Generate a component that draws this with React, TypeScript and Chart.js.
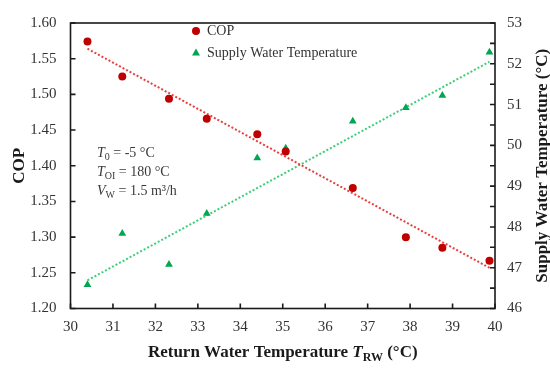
import { useEffect, useRef } from "react";
import { Chart, registerables } from "chart.js";
Chart.register(...registerables);

// Data
const returnTemp = [30.4, 31.22, 32.32, 33.21, 34.4, 35.07, 36.65, 37.9, 38.76, 39.87];
const copValues = [1.574, 1.525, 1.494, 1.466, 1.444, 1.42, 1.369, 1.3, 1.285, 1.267];
const supplyTemp = [46.58, 47.84, 47.08, 48.33, 49.69, 49.93, 50.59, 50.92, 51.22, 52.28];
const trendX = [30.4, 39.87];
const copTrend = [1.564, 1.257];
const supplyTrend = [46.69, 52.05];

const SERIF = "'Liberation Serif', 'Times New Roman', serif";
const RED = "#c00000";
const GREEN = "#00a650";

type Run = { text: string; font: string; dy?: number };

function drawRuns(ctx: CanvasRenderingContext2D, runs: Run[], x: number, y: number, align: "left" | "center") {
  let total = 0;
  for (const r of runs) {
    ctx.font = r.font;
    total += ctx.measureText(r.text).width;
  }
  let cx = align === "center" ? x - total / 2 : x;
  ctx.textAlign = "left";
  ctx.textBaseline = "alphabetic";
  for (const r of runs) {
    ctx.font = r.font;
    ctx.fillText(r.text, cx, y + (r.dy || 0));
    cx += ctx.measureText(r.text).width;
  }
}

const decorPlugin = {
  id: "decor",
  afterDraw(chart: any) {
    const ctx: CanvasRenderingContext2D = chart.ctx;
    const { left, right, top, bottom } = chart.chartArea;
    const sx = chart.scales.x;
    const sy = chart.scales.y;
    const sy1 = chart.scales.y1;
    ctx.save();
    // frame
    ctx.strokeStyle = "#1a1a1a";
    ctx.lineWidth = 1.6;
    ctx.strokeRect(left, top, right - left, bottom - top);
    // inward ticks
    ctx.beginPath();
    for (let v = 1.2; v <= 1.6001; v += 0.05) {
      const p = sy.getPixelForValue(v);
      ctx.moveTo(left, p);
      ctx.lineTo(left + 5, p);
    }
    for (let v = 30; v <= 40; v += 1) {
      const p = sx.getPixelForValue(v);
      ctx.moveTo(p, bottom);
      ctx.lineTo(p, bottom - 5);
    }
    for (let v = 46; v <= 53.001; v += 0.5) {
      const p = sy1.getPixelForValue(v);
      ctx.moveTo(right, p);
      ctx.lineTo(right - 5, p);
    }
    ctx.stroke();

    // legend
    ctx.fillStyle = RED;
    ctx.beginPath();
    ctx.arc(196, 31, 4, 0, Math.PI * 2);
    ctx.fill();
    ctx.fillStyle = GREEN;
    ctx.beginPath();
    ctx.moveTo(196, 48.5);
    ctx.lineTo(200, 55.5);
    ctx.lineTo(192, 55.5);
    ctx.closePath();
    ctx.fill();
    ctx.fillStyle = "#333";
    ctx.font = `14px ${SERIF}`;
    ctx.textBaseline = "middle";
    ctx.textAlign = "left";
    ctx.fillText("COP", 207, 31);
    ctx.fillText("Supply Water Temperature", 207, 53);

    // annotation
    const f = `14px ${SERIF}`;
    const fi = `italic 14px ${SERIF}`;
    const fs = `10px ${SERIF}`;
    ctx.fillStyle = "#3a3a3a";
    drawRuns(ctx, [{ text: "T", font: fi }, { text: "0", font: fs, dy: 3 }, { text: " = -5 °C", font: f }], 97, 157, "left");
    drawRuns(ctx, [{ text: "T", font: fi }, { text: "OI", font: fs, dy: 3 }, { text: " = 180 °C", font: f }], 97, 176, "left");
    drawRuns(ctx, [{ text: "V", font: fi }, { text: "W", font: fs, dy: 3 }, { text: " = 1.5 m³/h", font: f }], 97, 195, "left");

    // axis titles
    ctx.fillStyle = "#1a1a1a";
    const fb = `bold 17px ${SERIF}`;
    const fbi = `italic bold 17px ${SERIF}`;
    const fbs = `bold 12px ${SERIF}`;
    drawRuns(
      ctx,
      [
        { text: "Return Water Temperature ", font: fb },
        { text: "T", font: fbi },
        { text: "RW", font: fbs, dy: 4 },
        { text: " (°C)", font: fb },
      ],
      (left + right) / 2,
      357,
      "center"
    );
    const cy = (top + bottom) / 2;
    ctx.save();
    ctx.translate(24, cy);
    ctx.rotate(-Math.PI / 2);
    drawRuns(ctx, [{ text: "COP", font: fb }], 0, 0, "center");
    ctx.restore();
    ctx.save();
    ctx.translate(547, cy);
    ctx.rotate(-Math.PI / 2);
    drawRuns(ctx, [{ text: "Supply Water Temperature (°C)", font: fb }], 0, 0, "center");
    ctx.restore();
    ctx.restore();
  },
};

export default function App() {
  const ref = useRef<HTMLCanvasElement>(null);
  useEffect(() => {
    document.body.style.margin = "0";
    const tickFont = { family: SERIF, size: 15 };
    const chart = new Chart(ref.current as HTMLCanvasElement, {
      type: "scatter",
      data: {
        datasets: [
          {
            label: "COP",
            data: returnTemp.map((x, i) => ({ x, y: copValues[i] })),
            yAxisID: "y",
            pointStyle: "circle",
            pointRadius: 4,
            backgroundColor: RED,
            borderColor: RED,
            borderWidth: 0,
            order: 0,
          },
          {
            label: "Supply Water Temperature",
            data: returnTemp.map((x, i) => ({ x, y: supplyTemp[i] })),
            yAxisID: "y1",
            pointStyle: "triangle",
            pointRadius: 4.5,
            backgroundColor: GREEN,
            borderColor: GREEN,
            borderWidth: 0,
            order: 0,
          },
          {
            label: "COP trend",
            data: trendX.map((x, i) => ({ x, y: copTrend[i] })),
            yAxisID: "y",
            showLine: true,
            pointRadius: 0,
            borderColor: "#e8403a",
            borderWidth: 2,
            borderDash: [2, 2],
            order: 1,
          },
          {
            label: "Supply trend",
            data: trendX.map((x, i) => ({ x, y: supplyTrend[i] })),
            yAxisID: "y1",
            showLine: true,
            pointRadius: 0,
            borderColor: "#3ccf78",
            borderWidth: 2,
            borderDash: [2, 2],
            order: 1,
          },
        ],
      },
      options: {
        responsive: false,
        animation: false,
        layout: { padding: { top: 13, left: 0, right: 0, bottom: 0 } },
        plugins: { legend: { display: false }, tooltip: { enabled: false } },
        scales: {
          x: {
            type: "linear",
            min: 30,
            max: 40,
            ticks: { stepSize: 1, font: tickFont, color: "#333", padding: 10 },
            grid: { display: false, drawTicks: false },
            border: { display: false },
            afterFit: (s: any) => {
              s.height = 59.5;
            },
          },
          y: {
            type: "linear",
            position: "left",
            min: 1.2,
            max: 1.6,
            ticks: {
              stepSize: 0.05,
              font: tickFont,
              color: "#333",
              padding: 14,
              callback: (v: any) => Number(v).toFixed(2),
            },
            grid: { display: false, drawTicks: false },
            border: { display: false },
            afterFit: (s: any) => {
              s.width = 70.5;
            },
          },
          y1: {
            type: "linear",
            position: "right",
            min: 46,
            max: 53,
            ticks: { stepSize: 1, font: tickFont, color: "#333", padding: 12 },
            grid: { display: false, drawTicks: false },
            border: { display: false },
            afterFit: (s: any) => {
              s.width = 55;
            },
          },
        },
      } as any,
      plugins: [decorPlugin],
    });
    return () => chart.destroy();
  }, []);
  return (
    <div style={{ width: 550, height: 368 }}>
      <canvas ref={ref} width={550} height={368} style={{ display: "block", width: 550, height: 368 }} />
    </div>
  );
}
